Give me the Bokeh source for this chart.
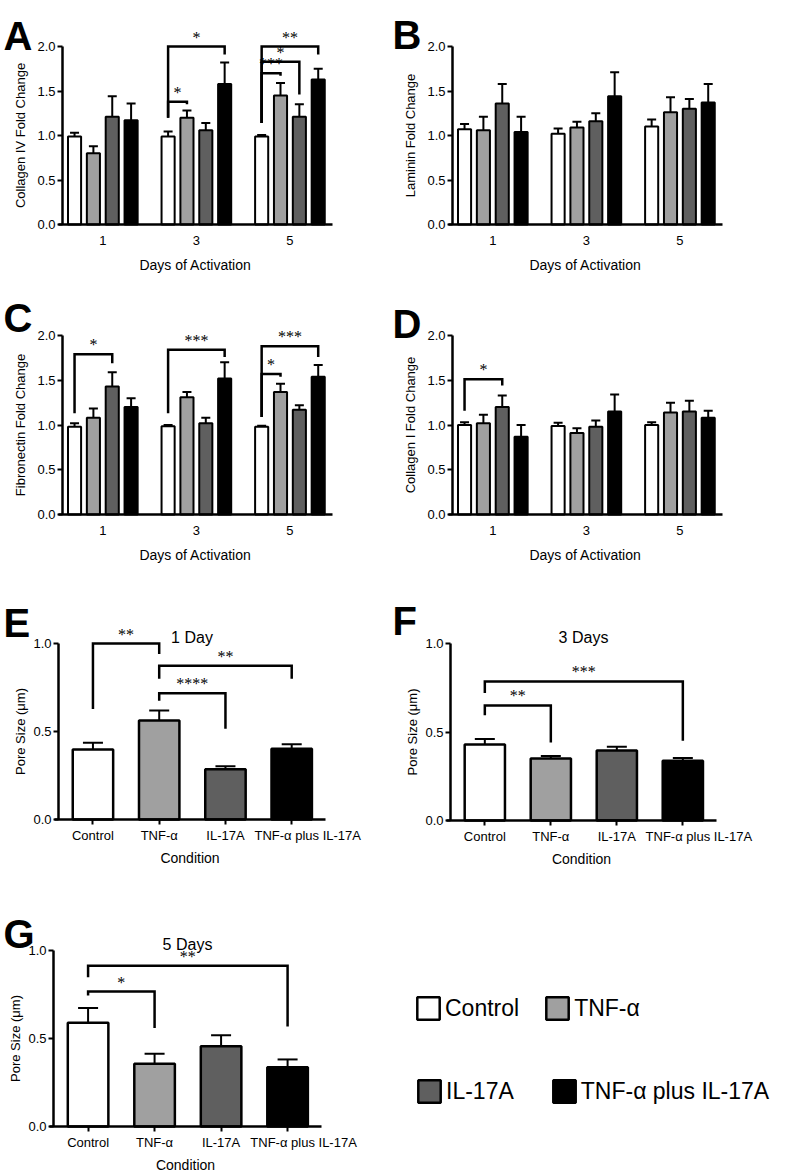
from bokeh.plotting import figure
from bokeh.models import (ColumnDataSource, Whisker, TeeHead, LabelSet, Label, Legend,
                          LegendItem, FixedTicker, Range1d, PrintfTickFormatter)
from bokeh.layouts import column, row
from bokeh.embed import file_html
from bokeh.resources import INLINE

FONT = "Liberation Sans"

conditions = ["Control", "TNF-α", "IL-17A", "TNF-α plus IL-17A"]
bar_colors = ["#ffffff", "#a0a0a0", "#5f5f5f", "#000000"]
days = ["1", "3", "5"]

# ---- Panels A-D: fold change, rows = conditions, columns = days 1, 3, 5 ----
colIV_mean = [[0.99, 0.99, 0.99], [0.80, 1.20, 1.45], [1.21, 1.06, 1.21], [1.17, 1.58, 1.63]]
colIV_sem = [[0.04, 0.055, 0.015], [0.08, 0.08, 0.14], [0.23, 0.08, 0.14], [0.19, 0.24, 0.12]]
# (day index, from condition, to condition, left leg bottom, bracket top, right leg bottom, stars)
colIV_sig = [(1, 0, 1, 1.20, 1.38, 1.35, "*"), (1, 0, 3, 1.20, 2.00, 1.91, "*"),
             (2, 0, 1, 1.14, 1.70, 1.67, "***"), (2, 0, 2, 1.14, 1.83, 1.46, "*"),
             (2, 0, 3, 1.14, 2.00, 1.91, "**")]

laminin_mean = [[1.07, 1.02, 1.10], [1.06, 1.09, 1.26], [1.36, 1.16, 1.30], [1.04, 1.44, 1.37]]
laminin_sem = [[0.06, 0.06, 0.08], [0.15, 0.065, 0.17], [0.22, 0.09, 0.11], [0.17, 0.27, 0.21]]
laminin_sig = []

fibro_mean = [[0.98, 0.985, 0.98], [1.08, 1.31, 1.37], [1.43, 1.02, 1.17], [1.20, 1.52, 1.54]]
fibro_sem = [[0.04, 0.015, 0.012], [0.105, 0.06, 0.09], [0.16, 0.06, 0.05], [0.10, 0.18, 0.13]]
fibro_sig = [(0, 0, 2, 1.13, 1.79, 1.69, "*"), (1, 0, 3, 1.13, 1.84, 1.76, "***"),
             (2, 0, 1, 1.09, 1.57, 1.54, "*"), (2, 0, 3, 1.09, 1.88, 1.76, "***")]

colI_mean = [[1.00, 0.99, 1.00], [1.02, 0.91, 1.14], [1.20, 0.98, 1.15], [0.87, 1.15, 1.08]]
colI_sem = [[0.03, 0.035, 0.03], [0.095, 0.055, 0.11], [0.13, 0.07, 0.12], [0.13, 0.19, 0.08]]
colI_sig = [(0, 0, 2, 1.16, 1.51, 1.44, "*")]

# ---- Panels E-G: pore size (µm) per condition ----
pore1_mean = [0.398, 0.562, 0.285, 0.402]
pore1_sem = [0.038, 0.057, 0.017, 0.026]
pore1_sig = [(0, 1, 0.628, 1.00, 0.94, "**"), (1, 3, 0.80, 0.874, 0.80, "**"),
             (1, 2, 0.675, 0.717, 0.515, "****")]

pore3_mean = [0.430, 0.350, 0.395, 0.338]
pore3_sem = [0.030, 0.015, 0.022, 0.015]
pore3_sig = [(0, 1, 0.594, 0.65, 0.44, "**"), (0, 3, 0.72, 0.786, 0.45, "***")]

pore5_mean = [0.589, 0.356, 0.456, 0.337]
pore5_sem = [0.085, 0.057, 0.063, 0.044]
pore5_sig = [(0, 1, 0.744, 0.767, 0.56, "*"), (0, 3, 0.848, 0.913, 0.568, "**")]

FOLD_X = (-0.431, 2.455)
PORE_X = (-0.52, 3.51)


def base_fig(w, h, box, xr, yr):
    """box = pixel box (left, right, top, bottom) of the plotting area inside the figure.
    The ranges are widened so that the whole figure is the frame and axes sit at the box."""
    left, right, top, bottom = box
    sx = (xr[1] - xr[0]) / (right - left)
    sy = (yr[1] - yr[0]) / (bottom - top)
    X = Range1d(xr[0] - left * sx, xr[1] + (w - right) * sx)
    Y = Range1d(yr[0] - (h - bottom) * sy, yr[1] + top * sy)
    p = figure(width=w, height=h, x_range=X, y_range=Y, title=None,
               output_backend="svg", toolbar_location=None, min_border=0)
    p.outline_line_color = None
    p.xgrid.visible = False
    p.ygrid.visible = False
    return p, 4 * sx


def style_axes(p, xr, overhang, xticks, xlabels, xlabel, ylabel, yticks, x_tick_out,
               x_lab_standoff, x_axis_standoff, y_axis_standoff):
    xa = p.xaxis[0]
    ya = p.yaxis[0]
    for ax in (xa, ya):
        ax.axis_line_width = 2.5
        ax.axis_line_color = "black"
        ax.major_tick_line_width = 2
        ax.major_tick_line_color = "black"
        ax.minor_tick_line_color = None
        ax.major_tick_in = 0
        ax.major_label_text_font = FONT
        ax.major_label_text_color = "black"
        ax.major_label_text_font_size = "13px"
        ax.axis_label_text_font = FONT
        ax.axis_label_text_font_style = "normal"
        ax.axis_label_text_color = "black"
    xa.fixed_location = 0
    xa.bounds = (xr[0] - overhang, xr[1])
    xa.ticker = FixedTicker(ticks=xticks)
    xa.major_label_overrides = {t: lab for t, lab in zip(xticks, xlabels)}
    xa.major_tick_out = x_tick_out
    xa.major_label_standoff = x_lab_standoff
    xa.axis_label = xlabel
    xa.axis_label_text_font_size = "14px"
    xa.axis_label_standoff = x_axis_standoff
    ya.fixed_location = xr[0]
    ya.bounds = (yticks[0], yticks[-1])
    ya.ticker = FixedTicker(ticks=yticks)
    ya.formatter = PrintfTickFormatter(format="%.1f")
    ya.major_tick_out = 5
    ya.major_label_standoff = 2
    ya.axis_label = ylabel
    ya.axis_label_text_font_size = "13px"
    ya.axis_label_standoff = y_axis_standoff


def add_brackets(p, segs, star_size="16px"):
    src = ColumnDataSource(dict(
        xs=[[a, a, b, b] for a, b, yl, yt, yr, s in segs],
        ys=[[yl, yt, yt, yr] for a, b, yl, yt, yr, s in segs],
        xm=[(a + b) / 2 for a, b, yl, yt, yr, s in segs],
        yt=[yt for a, b, yl, yt, yr, s in segs],
        stars=[s for a, b, yl, yt, yr, s in segs]))
    p.multi_line(xs="xs", ys="ys", source=src, line_color="black", line_width=2.5,
                 line_join="miter")
    p.add_layout(LabelSet(x="xm", y="yt", text="stars", source=src, text_align="center",
                          text_baseline="alphabetic", y_offset=4, text_font=FONT,
                          text_font_size=star_size, text_color="black"))


def add_letter(p, letter, x, y):
    p.add_layout(Label(x=x, y=y, x_units="screen", y_units="screen", text=letter,
                       text_font=FONT, text_font_style="bold", text_font_size="40px",
                       text_baseline="alphabetic", text_align="left", text_color="black"))


STEP = 0.2015


def fold_panel(w, h, box, mean, sem, sig, ylabel, letter, lx, ly):
    p, overhang = base_fig(w, h, box, FOLD_X, (0, 2.0))
    offs = [(i - 1.5) * STEP for i in range(4)]
    for c in range(4):
        xs = [d + offs[c] for d in range(len(days))]
        src = ColumnDataSource(dict(x=xs, top=mean[c], lo=mean[c],
                                    hi=[m + s for m, s in zip(mean[c], sem[c])]))
        p.vbar(x="x", top="top", bottom=0, width=0.14, source=src, fill_color=bar_colors[c],
               line_color="black", line_width=2)
        p.add_layout(Whisker(source=src, base="x", lower="lo", upper="hi", dimension="height",
                             line_color="black", line_width=2, lower_head=None,
                             upper_head=TeeHead(size=9, line_color="black", line_width=2)))
    segs = [(d + offs[a], d + offs[b], yl, yt, yr, s) for d, a, b, yl, yt, yr, s in sig]
    if segs:
        add_brackets(p, segs)
    style_axes(p, FOLD_X, overhang, [0, 1, 2], days, "Days of Activation", ylabel,
               [0, 0.5, 1.0, 1.5, 2.0], 0, 11, 9, 6)
    add_letter(p, letter, lx, ly)
    return p


def pore_panel(w, h, box, mean, sem, sig, title, letter, lx, ly, y_axis_standoff):
    p, overhang = base_fig(w, h, box, PORE_X, (0, 1.0))
    renderers = []
    for c in range(4):
        src = ColumnDataSource(dict(x=[c], top=[mean[c]], lo=[mean[c]], hi=[mean[c] + sem[c]]))
        r = p.vbar(x="x", top="top", bottom=0, width=0.61, source=src, fill_color=bar_colors[c],
                   line_color="black", line_width=2.5)
        renderers.append(r)
        p.add_layout(Whisker(source=src, base="x", lower="lo", upper="hi", dimension="height",
                             line_color="black", line_width=2, lower_head=None,
                             upper_head=TeeHead(size=20, line_color="black", line_width=2)))
    add_brackets(p, sig)
    style_axes(p, PORE_X, overhang, [0, 1, 2, 3], conditions[:3] + [""], "Condition",
               "Pore Size (μm)", [0, 0.5, 1.0], 5, 3, 4, y_axis_standoff)
    # the long last category label sits a little right of its tick, as in the original
    p.add_layout(Label(x=3, y=0, text=conditions[3], x_offset=16, y_offset=-8,
                       text_align="center", text_baseline="top", text_font=FONT,
                       text_font_size="13px", text_color="black"))
    p.add_layout(Label(x=(PORE_X[0] + PORE_X[1]) / 2, y=1.0, text=title, y_offset=6,
                       text_align="center", text_baseline="alphabetic", text_font=FONT,
                       text_font_size="16px", text_color="black"))
    add_letter(p, letter, lx, ly)
    return p, renderers


pA = fold_panel(390, 280, (62, 332, 46, 224), colIV_mean, colIV_sem, colIV_sig,
                "Collagen IV Fold Change", "A", 3, 245)
pB = fold_panel(398, 280, (62, 332, 46, 224), laminin_mean, laminin_sem, laminin_sig,
                "Laminin Fold Change", "B", 2, 246)
pC = fold_panel(390, 290, (62, 332, 55, 234), fibro_mean, fibro_sem, fibro_sig,
                "Fibronectin Fold Change", "C", 3, 253)
pD = fold_panel(398, 290, (62, 332, 55, 234), colI_mean, colI_sem, colI_sig,
                "Collagen I Fold Change", "D", 2, 247)
pE, _ = pore_panel(390, 298, (58, 325, 73, 249), pore1_mean, pore1_sem, pore1_sig,
                   "1 Day", "E", 3, 246, 2)
pF, _ = pore_panel(398, 298, (60, 326, 73, 250), pore3_mean, pore3_sem, pore3_sig,
                   "3 Days", "F", 2, 248, 2)
pG, gr = pore_panel(788, 308, (53, 321, 82, 258), pore5_mean, pore5_sem, pore5_sig,
                    "5 Days", "G", 3, 243, 2)

leg_common = dict(orientation="horizontal", padding=0, margin=0, glyph_width=28,
                  glyph_height=28, label_standoff=3, label_text_font=FONT,
                  label_text_font_size="23px", label_text_color="black",
                  border_line_color=None, background_fill_alpha=0)
leg1 = Legend(items=[LegendItem(label=conditions[0], renderers=[gr[0]]),
                     LegendItem(label=conditions[1], renderers=[gr[1]])],
              location=(414, 154), spacing=24, **leg_common)
leg2 = Legend(items=[LegendItem(label=conditions[2], renderers=[gr[2]]),
                     LegendItem(label=conditions[3], renderers=[gr[3]])],
              location=(415, 71), spacing=36, **leg_common)
pG.add_layout(leg1)
pG.add_layout(leg2)

layout = column(row(pA, pB), row(pC, pD), row(pE, pF), pG)

with open("out.html", "w") as f:
    f.write(file_html(layout, INLINE))
